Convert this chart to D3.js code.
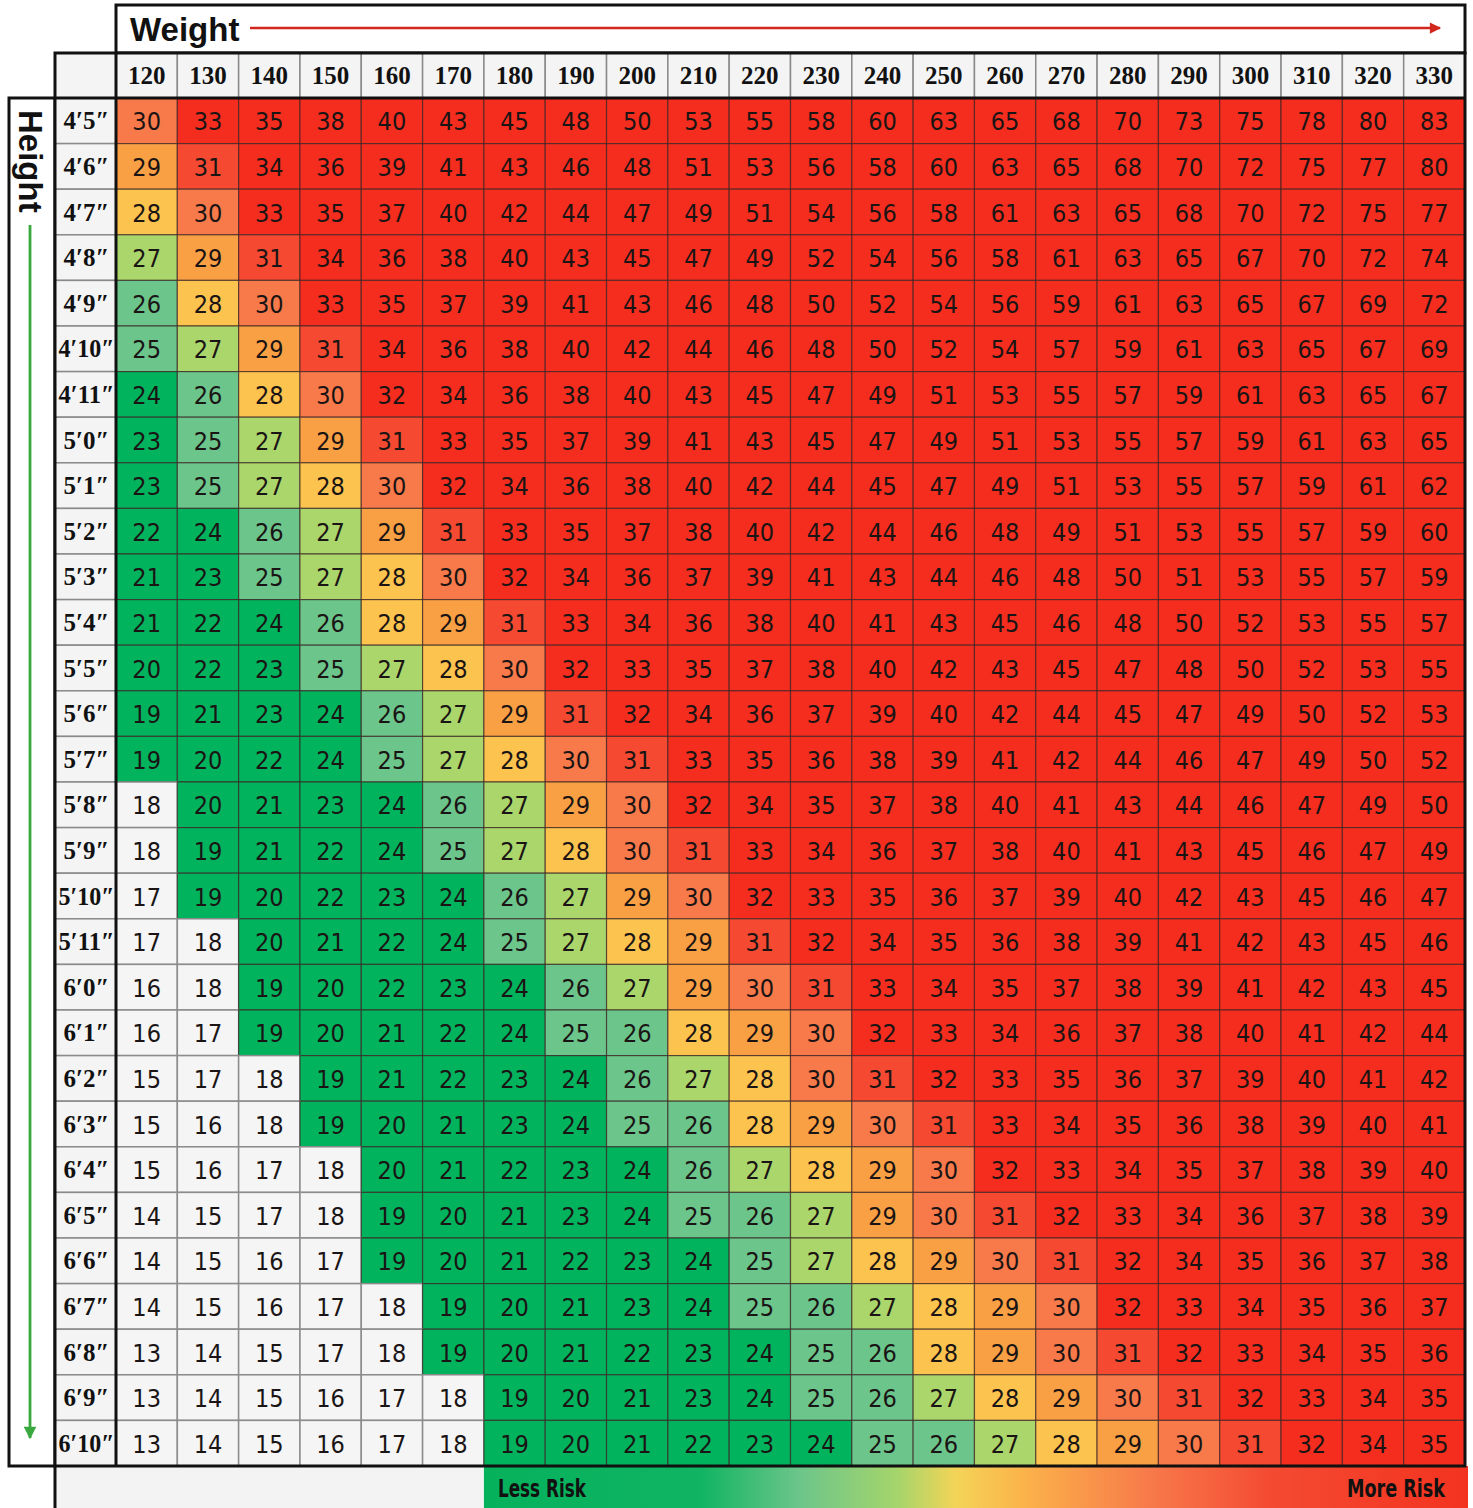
<!DOCTYPE html>
<html lang="en">
<head>
    <meta charset="UTF-8">
    <title>BMI chart</title>
    <script src="https://d3js.org/d3.v7.min.js"></script>
    <style>
        body { margin: 0; background: #fff; }
        .cell-num {
            font-family: 'DejaVu Sans Condensed', 'Liberation Sans Narrow', sans-serif;
            font-size: 25px;
            text-anchor: middle;
            dominant-baseline: central;
            fill: #1a1414;
        }
        .col-head, .row-head {
            font-family: 'Liberation Serif', serif;
            font-weight: bold;
            font-size: 25px;
            text-anchor: middle;
            dominant-baseline: central;
            fill: #111;
        }
        .title {
            font-family: 'Liberation Sans', Arial, sans-serif;
            font-weight: bold;
            font-size: 33px;
            fill: #111;
        }
        .risk {
            font-family: 'DejaVu Sans Condensed', sans-serif;
            font-weight: bold;
            font-size: 24px;
            fill: #111;
        }
    </style>
</head>
<body>
<script>
    const width = 1473;
    const height = 1508;

    const weights = [120, 130, 140, 150, 160, 170, 180, 190, 200, 210, 220,
                     230, 240, 250, 260, 270, 280, 290, 300, 310, 320, 330];

    const heightsLabels = ["4′5″", "4′6″", "4′7″", "4′8″", "4′9″", "4′10″", "4′11″",
                           "5′0″", "5′1″", "5′2″", "5′3″", "5′4″", "5′5″", "5′6″", "5′7″",
                           "5′8″", "5′9″", "5′10″", "5′11″", "6′0″", "6′1″", "6′2″", "6′3″",
                           "6′4″", "6′5″", "6′6″", "6′7″", "6′8″", "6′9″", "6′10″"];

    // one row per height, one value per weight
    const bmi = [
        [30, 33, 35, 38, 40, 43, 45, 48, 50, 53, 55, 58, 60, 63, 65, 68, 70, 73, 75, 78, 80, 83],
        [29, 31, 34, 36, 39, 41, 43, 46, 48, 51, 53, 56, 58, 60, 63, 65, 68, 70, 72, 75, 77, 80],
        [28, 30, 33, 35, 37, 40, 42, 44, 47, 49, 51, 54, 56, 58, 61, 63, 65, 68, 70, 72, 75, 77],
        [27, 29, 31, 34, 36, 38, 40, 43, 45, 47, 49, 52, 54, 56, 58, 61, 63, 65, 67, 70, 72, 74],
        [26, 28, 30, 33, 35, 37, 39, 41, 43, 46, 48, 50, 52, 54, 56, 59, 61, 63, 65, 67, 69, 72],
        [25, 27, 29, 31, 34, 36, 38, 40, 42, 44, 46, 48, 50, 52, 54, 57, 59, 61, 63, 65, 67, 69],
        [24, 26, 28, 30, 32, 34, 36, 38, 40, 43, 45, 47, 49, 51, 53, 55, 57, 59, 61, 63, 65, 67],
        [23, 25, 27, 29, 31, 33, 35, 37, 39, 41, 43, 45, 47, 49, 51, 53, 55, 57, 59, 61, 63, 65],
        [23, 25, 27, 28, 30, 32, 34, 36, 38, 40, 42, 44, 45, 47, 49, 51, 53, 55, 57, 59, 61, 62],
        [22, 24, 26, 27, 29, 31, 33, 35, 37, 38, 40, 42, 44, 46, 48, 49, 51, 53, 55, 57, 59, 60],
        [21, 23, 25, 27, 28, 30, 32, 34, 36, 37, 39, 41, 43, 44, 46, 48, 50, 51, 53, 55, 57, 59],
        [21, 22, 24, 26, 28, 29, 31, 33, 34, 36, 38, 40, 41, 43, 45, 46, 48, 50, 52, 53, 55, 57],
        [20, 22, 23, 25, 27, 28, 30, 32, 33, 35, 37, 38, 40, 42, 43, 45, 47, 48, 50, 52, 53, 55],
        [19, 21, 23, 24, 26, 27, 29, 31, 32, 34, 36, 37, 39, 40, 42, 44, 45, 47, 49, 50, 52, 53],
        [19, 20, 22, 24, 25, 27, 28, 30, 31, 33, 35, 36, 38, 39, 41, 42, 44, 46, 47, 49, 50, 52],
        [18, 20, 21, 23, 24, 26, 27, 29, 30, 32, 34, 35, 37, 38, 40, 41, 43, 44, 46, 47, 49, 50],
        [18, 19, 21, 22, 24, 25, 27, 28, 30, 31, 33, 34, 36, 37, 38, 40, 41, 43, 45, 46, 47, 49],
        [17, 19, 20, 22, 23, 24, 26, 27, 29, 30, 32, 33, 35, 36, 37, 39, 40, 42, 43, 45, 46, 47],
        [17, 18, 20, 21, 22, 24, 25, 27, 28, 29, 31, 32, 34, 35, 36, 38, 39, 41, 42, 43, 45, 46],
        [16, 18, 19, 20, 22, 23, 24, 26, 27, 29, 30, 31, 33, 34, 35, 37, 38, 39, 41, 42, 43, 45],
        [16, 17, 19, 20, 21, 22, 24, 25, 26, 28, 29, 30, 32, 33, 34, 36, 37, 38, 40, 41, 42, 44],
        [15, 17, 18, 19, 21, 22, 23, 24, 26, 27, 28, 30, 31, 32, 33, 35, 36, 37, 39, 40, 41, 42],
        [15, 16, 18, 19, 20, 21, 23, 24, 25, 26, 28, 29, 30, 31, 33, 34, 35, 36, 38, 39, 40, 41],
        [15, 16, 17, 18, 20, 21, 22, 23, 24, 26, 27, 28, 29, 30, 32, 33, 34, 35, 37, 38, 39, 40],
        [14, 15, 17, 18, 19, 20, 21, 23, 24, 25, 26, 27, 29, 30, 31, 32, 33, 34, 36, 37, 38, 39],
        [14, 15, 16, 17, 19, 20, 21, 22, 23, 24, 25, 27, 28, 29, 30, 31, 32, 34, 35, 36, 37, 38],
        [14, 15, 16, 17, 18, 19, 20, 21, 23, 24, 25, 26, 27, 28, 29, 30, 32, 33, 34, 35, 36, 37],
        [13, 14, 15, 17, 18, 19, 20, 21, 22, 23, 24, 25, 26, 28, 29, 30, 31, 32, 33, 34, 35, 36],
        [13, 14, 15, 16, 17, 18, 19, 20, 21, 23, 24, 25, 26, 27, 28, 29, 30, 31, 32, 33, 34, 35],
        [13, 14, 15, 16, 17, 18, 19, 20, 21, 22, 23, 24, 25, 26, 27, 28, 29, 30, 31, 32, 34, 35]
    ];

    // bmi thresholds -> fill
    const color = d3.scaleThreshold()
        .domain([19, 25, 27, 28, 29, 30, 31, 32])
        .range(["#f5f5f5", "#02b35e", "#6cc58b", "#abd66b", "#fdc34f",
                "#f9a044", "#f87a4a", "#f54a31", "#f52d1f"]);

    const gridLeft = 116, gridRight = 1465, gridTop = 98, gridBottom = 1466;
    const headTop = 53, labelLeft = 55;

    const x = d3.scaleBand().domain(weights).range([gridLeft, gridRight]);
    const y = d3.scaleBand().domain(heightsLabels).range([gridTop, gridBottom]);

    const svg = d3.select("body").append("svg").attr("width", width).attr("height", height);

    const defs = svg.append("defs");
    const arrow = (id, col) => defs.append("marker")
        .attr("id", id).attr("viewBox", "0 0 10 10")
        .attr("refX", 9).attr("refY", 5)
        .attr("markerWidth", 6).attr("markerHeight", 4.5)
        .attr("markerUnits", "strokeWidth")
        .attr("orient", "auto")
        .append("path").attr("d", "M0,0L10,5L0,10Z").attr("fill", col);
    arrow("arrRed", "#d1271d");
    arrow("arrGreen", "#39a83e");

    // legend gradient
    const grad = defs.append("linearGradient").attr("id", "risk")
        .attr("x1", "0%").attr("x2", "100%");
    [["0%", "#06b15c"], ["22%", "#10b462"], ["32%", "#6cc58b"], ["42%", "#a5d56b"],
     ["48%", "#f4d457"], ["55%", "#fbb24a"], ["68%", "#f7784a"], ["80%", "#f44a32"], ["100%", "#f3331f"]]
        .forEach(s => grad.append("stop").attr("offset", s[0]).attr("stop-color", s[1]));

    // weight title box
    svg.append("rect")
        .attr("x", gridLeft).attr("y", 5)
        .attr("width", gridRight - gridLeft).attr("height", headTop - 5)
        .attr("fill", "#fff").attr("stroke", "#111").attr("stroke-width", 3);
    svg.append("text").attr("class", "title")
        .attr("x", 130).attr("y", 41).text("Weight");
    svg.append("line")
        .attr("x1", 250).attr("x2", 1440).attr("y1", 28).attr("y2", 28)
        .attr("stroke", "#d1271d").attr("stroke-width", 2.5)
        .attr("marker-end", "url(#arrRed)");

    // height title box
    svg.append("rect")
        .attr("x", 9).attr("y", gridTop)
        .attr("width", labelLeft - 9).attr("height", gridBottom - gridTop)
        .attr("fill", "#fff").attr("stroke", "#111").attr("stroke-width", 3);
    svg.append("text").attr("class", "title")
        .attr("transform", "translate(19,110) rotate(90)")
        .text("Height");
    svg.append("line")
        .attr("x1", 30).attr("x2", 30).attr("y1", 225).attr("y2", 1438)
        .attr("stroke", "#39a83e").attr("stroke-width", 2.8)
        .attr("marker-end", "url(#arrGreen)");

    // column header
    svg.append("rect")
        .attr("x", labelLeft).attr("y", headTop)
        .attr("width", gridLeft - labelLeft).attr("height", gridTop - headTop)
        .attr("fill", "#f4f4f4").attr("stroke", "#999");
    const colHead = svg.append("g");
    colHead.selectAll("rect").data(weights).join("rect")
        .attr("x", d => x(d)).attr("y", headTop)
        .attr("width", x.bandwidth()).attr("height", gridTop - headTop)
        .attr("fill", "#f4f4f4").attr("stroke", "#8a8a8a").attr("stroke-width", 1.5);
    colHead.selectAll("text").data(weights).join("text")
        .attr("class", "col-head")
        .attr("x", d => x(d) + x.bandwidth() / 2)
        .attr("y", (headTop + gridTop) / 2)
        .text(d => d);

    // row header
    const rowHead = svg.append("g");
    rowHead.selectAll("rect").data(heightsLabels).join("rect")
        .attr("x", labelLeft).attr("y", d => y(d))
        .attr("width", gridLeft - labelLeft).attr("height", y.bandwidth())
        .attr("fill", "#f4f4f4").attr("stroke", "#8a8a8a").attr("stroke-width", 1.5);
    rowHead.selectAll("text").data(heightsLabels).join("text")
        .attr("class", "row-head")
        .attr("x", (labelLeft + gridLeft) / 2 + 1)
        .attr("y", d => y(d) + y.bandwidth() / 2)
        .attr("textLength", d => d.length > 4 ? 56 : null)
        .attr("lengthAdjust", "spacingAndGlyphs")
        .text(d => d);

    // cells
    const cells = [];
    bmi.forEach((row, i) => row.forEach((v, j) => cells.push({h: heightsLabels[i], w: weights[j], v: v})));

    const body = svg.append("g");
    body.selectAll("rect").data(cells).join("rect")
        .attr("x", d => x(d.w)).attr("y", d => y(d.h))
        .attr("width", x.bandwidth()).attr("height", y.bandwidth())
        .attr("fill", d => color(d.v))
        .attr("stroke", d => d.v < 19 ? "#8c8c8c" : "#3a2424")
        .attr("stroke-width", d => d.v < 19 ? 1.5 : 1.2)
        .attr("stroke-opacity", d => d.v < 19 ? 1 : 0.7);
    body.selectAll("text").data(cells).join("text")
        .attr("class", "cell-num")
        .attr("x", d => x(d.w) + x.bandwidth() / 2)
        .attr("y", d => y(d.h) + y.bandwidth() / 2 + 1)
        .text(d => d.v);

    // risk legend bar
    const legendSplit = x(180);
    svg.append("rect")
        .attr("x", labelLeft).attr("y", gridBottom)
        .attr("width", legendSplit - labelLeft).attr("height", height - gridBottom)
        .attr("fill", "#f3f3f3");
    svg.append("rect")
        .attr("x", legendSplit).attr("y", gridBottom)
        .attr("width", gridRight - legendSplit + 3).attr("height", height - gridBottom)
        .attr("fill", "url(#risk)");
    svg.append("text").attr("class", "risk")
        .attr("x", legendSplit + 14).attr("y", 1497)
        .attr("textLength", 88).attr("lengthAdjust", "spacingAndGlyphs")
        .text("Less Risk");
    svg.append("text").attr("class", "risk")
        .attr("x", 1347).attr("y", 1497)
        .attr("textLength", 98).attr("lengthAdjust", "spacingAndGlyphs")
        .text("More Risk");

    // heavy frame lines
    const frame = svg.append("g").attr("stroke", "#111").attr("fill", "none");
    frame.append("rect")
        .attr("x", labelLeft).attr("y", headTop)
        .attr("width", gridRight - labelLeft).attr("height", gridBottom - headTop)
        .attr("stroke-width", 3);
    frame.append("line")
        .attr("x1", gridLeft).attr("x2", gridLeft).attr("y1", headTop).attr("y2", gridBottom)
        .attr("stroke-width", 3);
    frame.append("line")
        .attr("x1", labelLeft).attr("x2", gridRight).attr("y1", gridTop).attr("y2", gridTop)
        .attr("stroke-width", 3);
    frame.append("line")
        .attr("x1", labelLeft).attr("x2", labelLeft).attr("y1", gridBottom).attr("y2", height)
        .attr("stroke-width", 3);
</script>
</body>
</html>
